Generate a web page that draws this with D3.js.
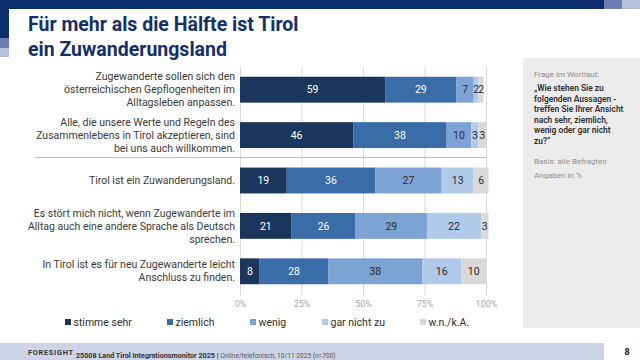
<!DOCTYPE html>
<html><head><meta charset="utf-8">
<script src="https://cdn.jsdelivr.net/npm/d3@7"></script>
<style>body{margin:0;background:#fff}svg{display:block;font-family:Roboto,"Noto Sans",sans-serif}</style>
</head><body><svg id="c" width="640" height="360"></svg>
<script>
const categories = [
  ["Zugewanderte sollen sich den","österreichischen Gepflogenheiten im","Alltagsleben anpassen."],
  ["Alle, die unsere Werte und Regeln des","Zusammenlebens in Tirol akzeptieren, sind","bei uns auch willkommen."],
  ["Tirol ist ein Zuwanderungsland."],
  ["Es stört mich nicht, wenn Zugewanderte im","Alltag auch eine andere Sprache als Deutsch","sprechen."],
  ["In Tirol ist es für neu Zugewanderte leicht","Anschluss zu finden."]
];
const seriesNames = ["stimme sehr","ziemlich","wenig","gar nicht zu","w.n./k.A."];
const stimmeSehr = [59,46,19,21,8];
const ziemlich   = [29,38,36,26,28];
const wenig      = [7,10,27,29,38];
const garNicht   = [2,3,13,22,16];
const wnka       = [2,3,6,3,10];
const tickValues = [0,25,50,75,100];
const tickLabels = ["0%","25%","50%","75%","100%"];
const colors = ["#1b365d","#3a6ca8","#7ca3d3","#b2cae9","#d9d9d9"];
const labelColors = ["#ffffff","#ffffff","#2b2b2b","#2b2b2b","#2b2b2b"];

const svg = d3.select("#c");
const ids = categories.map((c,i)=>"c"+i);
const rows = ids.map((id,i)=>({id, vals:[stimmeSehr[i],ziemlich[i],wenig[i],garNicht[i],wnka[i]]}));

// decorations
svg.append("rect").attr("x",0).attr("y",0).attr("width",604).attr("height",9).attr("fill","#0b2d6b");
svg.append("rect").attr("x",604).attr("y",0).attr("width",18).attr("height",9).attr("fill","#6b7eb2");
svg.append("rect").attr("x",622).attr("y",0).attr("width",18).attr("height",9).attr("fill","#b6bfdc");
svg.append("rect").attr("x",0).attr("y",0).attr("width",9).attr("height",38).attr("fill","#0b2d6b");
svg.append("rect").attr("x",0).attr("y",38).attr("width",9).attr("height",10).attr("fill","#6b7eb2");
svg.append("rect").attr("x",0).attr("y",48).attr("width",9).attr("height",9).attr("fill","#b6bfdc");

// title
const title = svg.append("text").attr("x",28).attr("fill","#14306a").attr("font-weight",700).attr("font-size",19.5);
title.append("tspan").attr("x",28).attr("y",31).text("Für mehr als die Hälfte ist Tirol");
title.append("tspan").attr("x",28).attr("y",56).text("ein Zuwanderungsland");

// side panel
svg.append("rect").attr("x",523).attr("y",58).attr("width",117).attr("height",270).attr("fill","#ececec");
svg.append("text").attr("x",534).attr("y",77).attr("font-size",8).attr("fill","#8c8c8c").text("Frage im Wortlaut:");
const q = ["„Wie stehen Sie zu","folgenden Aussagen -","treffen Sie Ihrer Ansicht","nach sehr, ziemlich,","wenig oder gar nicht","zu?“"];
const qt = svg.append("text").attr("font-size",8.4).attr("fill","#2f2f2f").attr("font-weight",600);
q.forEach((l,i)=>qt.append("tspan").attr("x",534).attr("y",91+i*10.5).text(l));
svg.append("text").attr("x",534).attr("y",164).attr("font-size",8).attr("fill","#8c8c8c").text("Basis: alle Befragten");
svg.append("text").attr("x",534).attr("y",178).attr("font-size",8).attr("fill","#8c8c8c").text("Angaben in %");

// scales
const x = d3.scaleLinear().domain([0,100]).range([240,486]);
const y = d3.scaleBand().domain(ids).range([67,294]).paddingInner(0.43).paddingOuter(0.215);

// grid
const gx = svg.append("g").attr("transform","translate(0,296)")
  .call(d3.axisBottom(x).tickValues(tickValues).tickFormat((d,i)=>tickLabels[i]).tickSize(-229).tickPadding(5));
gx.select(".domain").remove();
gx.selectAll("line").attr("stroke","#d9d9d9");
gx.selectAll("text").attr("fill","#a8a8a8").attr("font-size",9).attr("font-family","Roboto,sans-serif");

// separator
svg.append("line").attr("x1",35).attr("x2",486).attr("y1",157.5).attr("y2",157.5).attr("stroke","#bfbfbf").attr("stroke-width",1);

// bars
const stack = d3.stack().keys([0,1,2,3,4]).value((d,k)=>d.vals[k]);
const series = stack(rows);
series.forEach((s,k)=>{
  const g = svg.append("g");
  g.selectAll("rect").data(s).join("rect")
    .attr("x",d=>x(d[0])).attr("width",d=>x(d[1])-x(d[0]))
    .attr("y",d=>y(d.data.id)).attr("height",y.bandwidth()).attr("fill",colors[k]);
  g.selectAll("text").data(s).join("text")
    .attr("x",d=>(x(d[0])+x(d[1]))/2).attr("y",d=>y(d.data.id)+y.bandwidth()/2)
    .attr("dy","0.35em").attr("text-anchor","middle").attr("font-size",10.5)
    .attr("fill",labelColors[k]).text(d=>d.data.vals[k]);
});

// category labels
categories.forEach((lines,i)=>{
  const cy = y(ids[i]) + y.bandwidth()/2;
  const lh = 13;
  const t = svg.append("text").attr("text-anchor","end").attr("font-size",10.5).attr("fill","#3a3a3a");
  lines.forEach((l,j)=>t.append("tspan").attr("x",235).attr("y",cy + (j-(lines.length-1)/2)*lh).attr("dy","0.35em").text(l));
});

// legend
const legX = [65,167,250,322,420];
seriesNames.forEach((n,i)=>{
  svg.append("rect").attr("x",legX[i]).attr("y",319).attr("width",6).attr("height",6).attr("fill",colors[i]);
  svg.append("text").attr("x",legX[i]+8.5).attr("y",322).attr("dy","0.35em").attr("font-size",10.5).attr("fill","#2f2f2f").text(n);
});

// footer
svg.append("rect").attr("x",0).attr("y",343).attr("width",604).attr("height",17).attr("fill","#cdd4e7");
svg.append("text").attr("x",28).attr("y",352).attr("dy","0.35em").attr("font-size",7.4).attr("font-weight",700).attr("letter-spacing",0.7).attr("fill","#333").text("FORESIGHT");
const ft = svg.append("text").attr("x",76).attr("y",352).attr("dy","0.35em").attr("fill","#333");
ft.append("tspan").attr("font-weight",700).attr("font-size",7.2).text("25008 Land Tirol Integrationsmonitor 2025 | ");
ft.append("tspan").attr("fill","#555").attr("font-size",6.6).text("Online/telefonisch, 10/11 2025 (n=700)");
svg.append("text").attr("x",627).attr("y",352).attr("dy","0.35em").attr("font-size",9).attr("font-weight",700).attr("fill","#222").attr("text-anchor","middle").text("8");
</script></body></html>
